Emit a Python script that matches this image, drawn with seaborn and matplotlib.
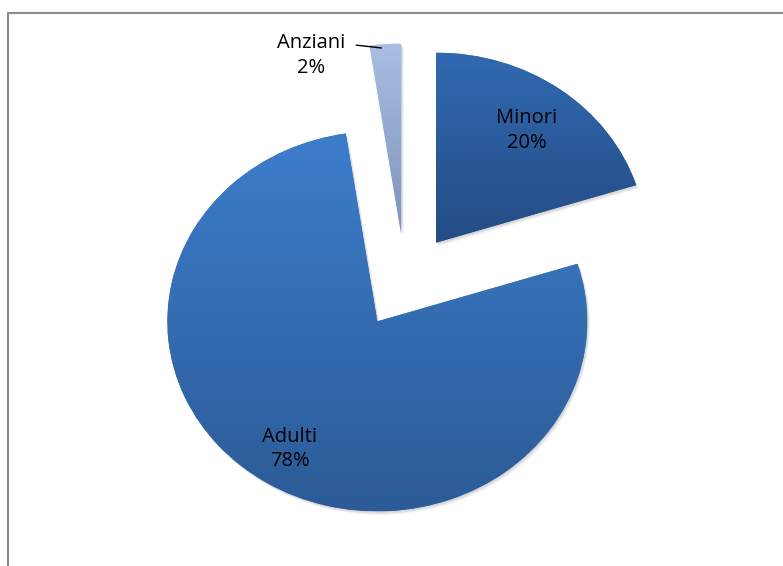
import numpy as np
import matplotlib
matplotlib.use("Agg")
import matplotlib.pyplot as plt
import seaborn as sns
from matplotlib.colors import LinearSegmentedColormap
from matplotlib.patches import Rectangle, Wedge

categories = ["Minori", "Adulti", "Anziani"]
values = [20.1, 77.5, 2.4]
pct_labels = ["20%", "78%", "2%"]
grad_top = ["#3169B0", "#3C7DCB", "#A9BEE2"]
grad_bottom = ["#244C85", "#2C5B97", "#7D93BD"]

sns.set_theme(style="white")
plt.rcParams['font.family'] = ['Open Sans', 'DejaVu Sans']

fig = plt.figure(figsize=(7.83, 5.66), dpi=100)
ax = fig.add_axes([0, 0, 1, 1])

wedges, _ = ax.pie(values, explode=[0.25] * 3, startangle=90, counterclock=False,
                   radius=1, colors=grad_top, wedgeprops=dict(linewidth=0, zorder=2))

# soft shadow
for w in wedges:
    for k, (dx, dy) in enumerate([(0.012, -0.018), (0.008, -0.012), (0.004, -0.006)]):
        sh = Wedge((w.center[0] + dx, w.center[1] + dy), w.r, w.theta1, w.theta2,
                   facecolor="black", alpha=0.06, linewidth=0, zorder=1)
        ax.add_patch(sh)

for w, top, bot in zip(wedges, grad_top, grad_bottom):
    ext = w.get_path().get_extents()
    cmap = LinearSegmentedColormap.from_list("g", [bot, top])
    grad = np.linspace(0, 1, 256).reshape(-1, 1)
    im = ax.imshow(grad, cmap=cmap, origin="lower", aspect="auto",
                   extent=[ext.x0, ext.x1, ext.y0, ext.y1], zorder=3,
                   interpolation="bicubic")
    im.set_clip_path(w)

ax.set_aspect('auto')
ax.set_xlim(-1.929, 1.80)
ax.set_ylim(-1.50, 1.479)
ax.axis('off')

fs = 14.5
for i, w in enumerate(wedges):
    ang = np.deg2rad((w.theta1 + w.theta2) / 2)
    cx, cy = w.center
    if i < 2:
        d = [0.73, 0.79][i]
        ax.text(cx + d * np.cos(ang), cy + d * np.sin(ang),
                f"{categories[i]}\n{pct_labels[i]}", ha="center", va="center",
                fontsize=fs, color="black", linespacing=1.3, zorder=5)
    else:
        tip = (cx + 0.98 * np.cos(ang) - 0.02, cy + 0.98 * np.sin(ang))
        mid = (tip[0] - 0.12, tip[1] + 0.015)
        ax.plot([mid[0], tip[0]], [mid[1], tip[1]], color="black", lw=1, zorder=5)
        ax.text(mid[0] - 0.215, mid[1] - 0.055, f"{categories[i]}\n{pct_labels[i]}",
                ha="center", va="center", fontsize=fs, color="black",
                linespacing=1.3, zorder=5)

frame = Rectangle((8 / 783, -0.1), 1.2, 1 - 13 / 566 + 0.1, transform=fig.transFigure,
                  fill=False, edgecolor="#8C8C8C", linewidth=1.5)
fig.patches.append(frame)

fig.savefig("out.png", dpi=100)
